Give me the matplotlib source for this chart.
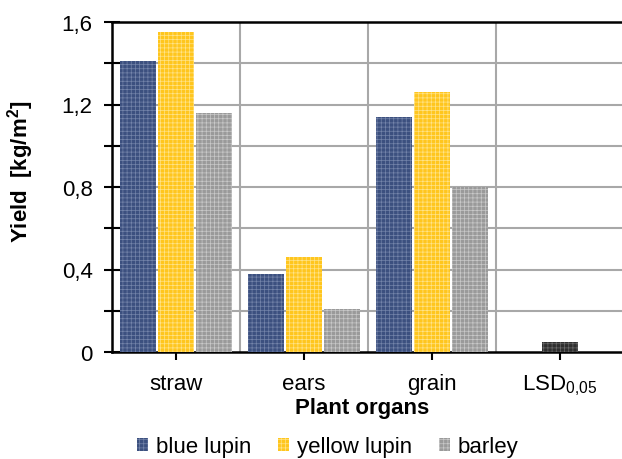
import matplotlib
matplotlib.use("Agg")
import matplotlib.pyplot as plt
from matplotlib.patches import Patch
import numpy as np

categories = ["straw", "ears", "grain", "LSD$_{0{,}05}$"]
series_names = ["blue lupin", "yellow lupin", "barley"]
blue_lupin = [1.41, 0.38, 1.14]
yellow_lupin = [1.55, 0.46, 1.26]
barley = [1.16, 0.21, 0.80]
lsd = 0.05
yticks = [0, 0.4, 0.8, 1.2, 1.6]
ytick_labels = ["0", "0,4", "0,8", "1,2", "1,6"]

plt.rcParams["font.family"] = ["Liberation Sans", "DejaVu Sans"]
plt.rcParams["mathtext.default"] = "regular"
plt.rcParams["hatch.linewidth"] = 0.5

FS = 16
fig = plt.figure(figsize=(6.22, 4.6), dpi=100)
ax = fig.add_axes([112/622, 107/460, 512/622, 330/460])

fills = ["#3C507F", "#FFC61E", "#9A9A9A"]
hatchc = ["#7484AA", "#FFE48A", "#C9C9C9"]
series = [blue_lupin, yellow_lupin, barley]
x = np.arange(3)
w = 0.28
offs = [-0.295, 0.0, 0.295]
for s, fc, hc, o in zip(series, fills, hatchc, offs):
    ax.bar(x + o, s, width=w, color=fc, edgecolor=hc, hatch="++++",
           linewidth=0, zorder=3)
ax.bar([3], [lsd], width=w, color="#2E2E2E", edgecolor="#6A6A6A",
       hatch="++++", linewidth=0, zorder=3)

ax.set_xlim(-0.5, 3.5)
ax.set_ylim(0, 1.6)
ax.set_xticks(range(4))
ax.set_xticklabels(categories, fontsize=FS)
ax.set_yticks(yticks)
ax.set_yticklabels(ytick_labels, fontsize=FS)
ax.set_yticks(np.arange(0.2, 1.6, 0.4), minor=True)
ax.tick_params(axis="both", which="both", direction="inout", length=12,
               width=1.5, color="black")
ax.tick_params(axis="y", which="major", pad=8)
ax.tick_params(axis="x", pad=9)

for yv in np.arange(0.2, 1.6, 0.2):
    ax.axhline(yv, color="#A8A8A8", lw=1.5, zorder=1)
for xv in [0.5, 1.5, 2.5]:
    ax.axvline(xv, color="#A8A8A8", lw=1.5, zorder=1)

for sp in ["left", "bottom", "top"]:
    ax.spines[sp].set_linewidth(1.8)
    ax.spines[sp].set_color("black")
ax.spines["right"].set_visible(False)

ax.set_xlabel("Plant organs", fontsize=FS, fontweight="bold", labelpad=0)
ax.xaxis.set_label_coords((362 - 112) / 512, -45/330)
ax.set_ylabel("Yield  [kg/m$^2$]", fontsize=FS, fontweight="bold")
ax.yaxis.set_label_coords(-0.148, (353 - 172) / 330)

handles = [Patch(facecolor=fc, edgecolor=hc, hatch="++++", linewidth=0)
           for fc, hc in zip(fills, hatchc)]
fig.legend(handles, series_names, loc="center", bbox_to_anchor=(328/622, 1 - 448/460),
           ncol=3, frameon=False, fontsize=FS, handlelength=0.5, handleheight=0.5,
           handletextpad=0.35, columnspacing=1.2, borderpad=0)

fig.savefig("out.png", dpi=100)
